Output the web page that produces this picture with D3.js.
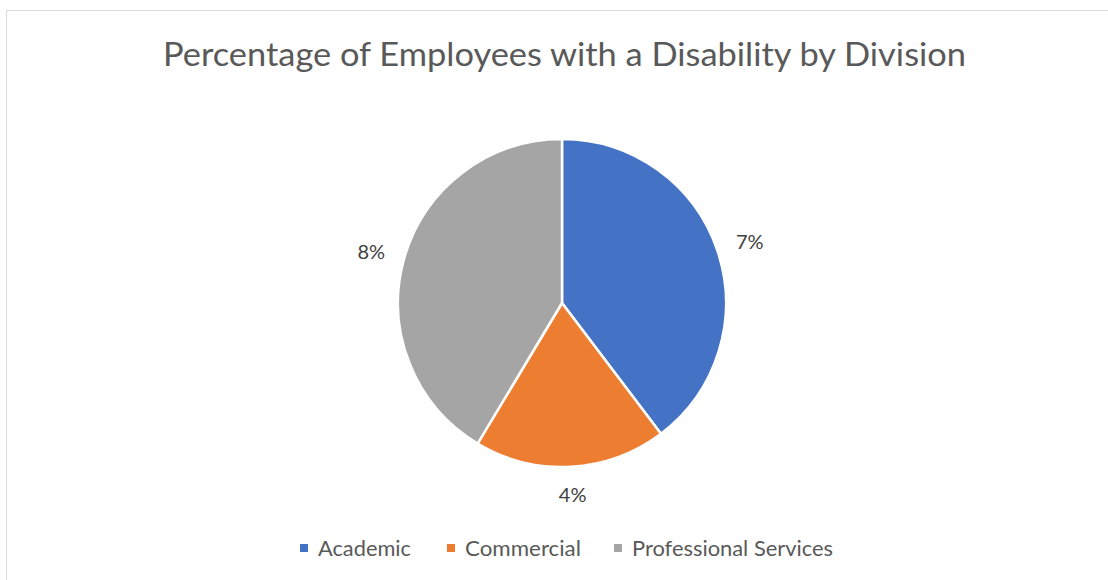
<!DOCTYPE html>
<html><head><meta charset="utf-8">
<script src="https://cdn.jsdelivr.net/npm/d3@7"></script>
<style>body{margin:0;background:#fff;} svg{display:block;}</style>
</head><body>
<svg id="chart" width="1108" height="580"></svg>
<script>
const title = "Percentage of Employees with a Disability by Division";
const categories = ["Academic", "Commercial", "Professional Services"];
const values = [0.0745, 0.0355, 0.0777];
const colors = ["#4472C4", "#ED7D31", "#A5A5A5"];

const svg = d3.select("#chart");
const W = 1108, H = 580;
const font = "Lato, 'Open Sans', sans-serif";

// chart border
svg.append("rect").attr("x", 6.5).attr("y", 10.5).attr("width", W + 10).attr("height", H + 10)
  .attr("fill", "#fff").attr("stroke", "#d9d9d9").attr("stroke-width", 1);

svg.append("text").attr("x", 564.5).attr("y", 65.7).attr("text-anchor", "middle")
  .attr("font-family", font).attr("font-size", 32).attr("fill", "#595959")
  .attr("textLength", 803).attr("lengthAdjust", "spacingAndGlyphs")
  .text(title);

const cx = 562, cy = 303, R = 164;
const pie = d3.pie().sort(null).value(d => d.v);
const data = categories.map((c, i) => ({c, v: values[i], col: colors[i]}));
const arcs = pie(data);
const arc = d3.arc().innerRadius(0).outerRadius(R);

const g = svg.append("g").attr("transform", `translate(${cx},${cy})`);
g.selectAll("path").data(arcs).join("path")
  .attr("d", arc).attr("fill", d => d.data.col)
  .attr("stroke", "#fff").attr("stroke-width", 2.5).attr("stroke-linejoin", "round");

// labels placed outside the pie: anchor at R+gap, then shifted by half label box
const fmt = d3.format(".0%");
const gap = 21, boxW = 26, boxH = 14;
g.selectAll("text.lbl").data(arcs).join("text").attr("class", "lbl")
  .attr("transform", d => {
    const a = (d.startAngle + d.endAngle) / 2;
    const r = R + gap;
    const x = Math.sin(a) * r + Math.sin(a) * boxW / 2;
    const y = -Math.cos(a) * r - Math.cos(a) * boxH / 2;
    return `translate(${x},${y})`;
  })
  .attr("text-anchor", "middle").attr("dy", "0.36em")
  .attr("font-family", font).attr("font-size", 20).attr("fill", "#404040")
  .text(d => fmt(d.data.v));

// legend
const legendX = [300, 447, 614];
const legendW = [93, 116, 201];
const lg = svg.append("g");
data.forEach((d, i) => {
  lg.append("rect").attr("x", legendX[i]).attr("y", 544).attr("width", 8).attr("height", 8).attr("fill", d.col);
  lg.append("text").attr("x", legendX[i] + 18).attr("y", 555.5)
    .attr("font-family", font).attr("font-size", 21).attr("fill", "#595959")
    .attr("textLength", legendW[i]).attr("lengthAdjust", "spacingAndGlyphs")
    .text(d.c);
});
</script>
</body></html>
